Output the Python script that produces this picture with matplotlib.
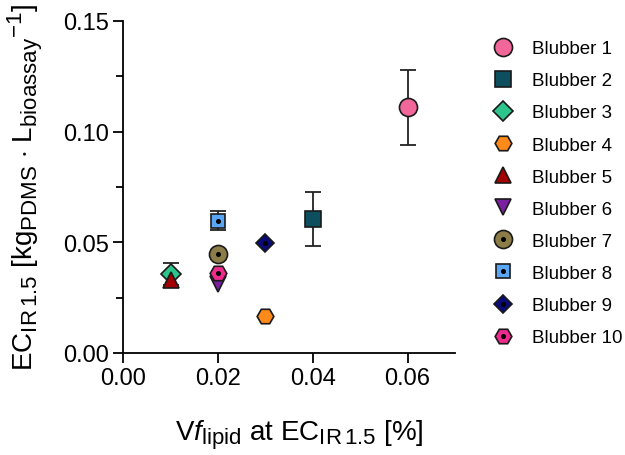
import matplotlib
matplotlib.use("Agg")
import matplotlib.pyplot as plt
from matplotlib.ticker import MultipleLocator, FormatStrFormatter
import matplotlib._mathtext as _mt

plt.rcParams['font.family'] = ['Liberation Sans', 'DejaVu Sans']
plt.rcParams['mathtext.fontset'] = 'custom'
plt.rcParams['mathtext.rm'] = 'Liberation Sans'
plt.rcParams['mathtext.it'] = 'Liberation Sans:italic'
# Prism-style subscripts are bigger than mathtext's default
_mt.SHRINK_FACTOR = 0.8

# data
names = ["Blubber 1", "Blubber 2", "Blubber 3", "Blubber 4", "Blubber 5",
         "Blubber 6", "Blubber 7", "Blubber 8", "Blubber 9", "Blubber 10"]
vf_lipid = [0.06, 0.04, 0.01, 0.03, 0.01, 0.02, 0.02, 0.02, 0.03, 0.02]
ec_ir = [0.111, 0.0605, 0.0355, 0.0167, 0.033, 0.031, 0.0447, 0.0598, 0.0498, 0.0363]
ec_err = [0.017, 0.012, 0.005, 0, 0, 0, 0, 0.0045, 0, 0]

# styles
colors = ["#F2679A", "#0D4F5E", "#2DC58B", "#FF8A1C", "#A30000",
          "#7A1FA0", "#8C7D48", "#5AA6F4", "#0A0A78", "#F02A8C"]
markers = ["o", "s", "D", "H", "^", "v", "o", "s", "D", "H"]
sizes = [13, 11, 10, 12, 12, 12, 13, 10, 9, 12]
dotted = [False, False, False, False, False, False, True, True, True, True]

fig = plt.figure(figsize=(6.25, 4.56), dpi=100)
ax = fig.add_axes([0.197, 0.224, 0.531, 0.728])

handles = []
for i in range(len(names)):
    if ec_err[i] > 0:
        ax.errorbar(vf_lipid[i], ec_ir[i], yerr=ec_err[i], fmt='none',
                    ecolor='#222222', elinewidth=1.3, capsize=6, capthick=1.3, zorder=2)
    m, = ax.plot(vf_lipid[i], ec_ir[i], linestyle='none', marker=markers[i],
                 markersize=sizes[i], markerfacecolor=colors[i],
                 markeredgecolor='#1a1a1a', markeredgewidth=1.2, zorder=3)
    if dotted[i]:
        d, = ax.plot(vf_lipid[i], ec_ir[i], linestyle='none', marker='o',
                     markersize=2.6, color='black', zorder=4)
        handles.append((m, d))
    else:
        handles.append(m)

ax.set_xlim(0, 0.07)
ax.set_ylim(0, 0.15)
ax.xaxis.set_major_locator(MultipleLocator(0.02))
ax.yaxis.set_major_locator(MultipleLocator(0.05))
ax.yaxis.set_minor_locator(MultipleLocator(0.025))
ax.xaxis.set_major_formatter(FormatStrFormatter('%.2f'))
ax.yaxis.set_major_formatter(FormatStrFormatter('%.2f'))

for s in ['top', 'right']:
    ax.spines[s].set_visible(False)
for s in ['left', 'bottom']:
    ax.spines[s].set_linewidth(1.3)
ax.tick_params(axis='both', which='major', labelsize=17, length=7, width=1.3)
ax.tick_params(axis='y', which='minor', length=5, width=1.3)

ax.set_xlabel(r"V$\mathit{f}_{\mathrm{lipid}}$ at EC$_{\mathrm{IR\,1.5}}$ [%]",
              fontsize=20, labelpad=20, x=0.53)
ax.set_ylabel(r"EC$_{\mathrm{IR\,1.5}}$ [kg$_{\mathrm{PDMS}}$ $\cdot$ L$_{\mathrm{bioassay}}$$^{\mathrm{-1}}$]",
              fontsize=20, labelpad=13)

ax.legend(handles, names, loc='upper left', bbox_to_anchor=(0.78, 0.91),
          bbox_transform=fig.transFigure, frameon=False, fontsize=13.5,
          labelspacing=0.8, handletextpad=0.75, handlelength=1.6,
          borderaxespad=0, borderpad=0)

fig.savefig("out.png", dpi=100)
